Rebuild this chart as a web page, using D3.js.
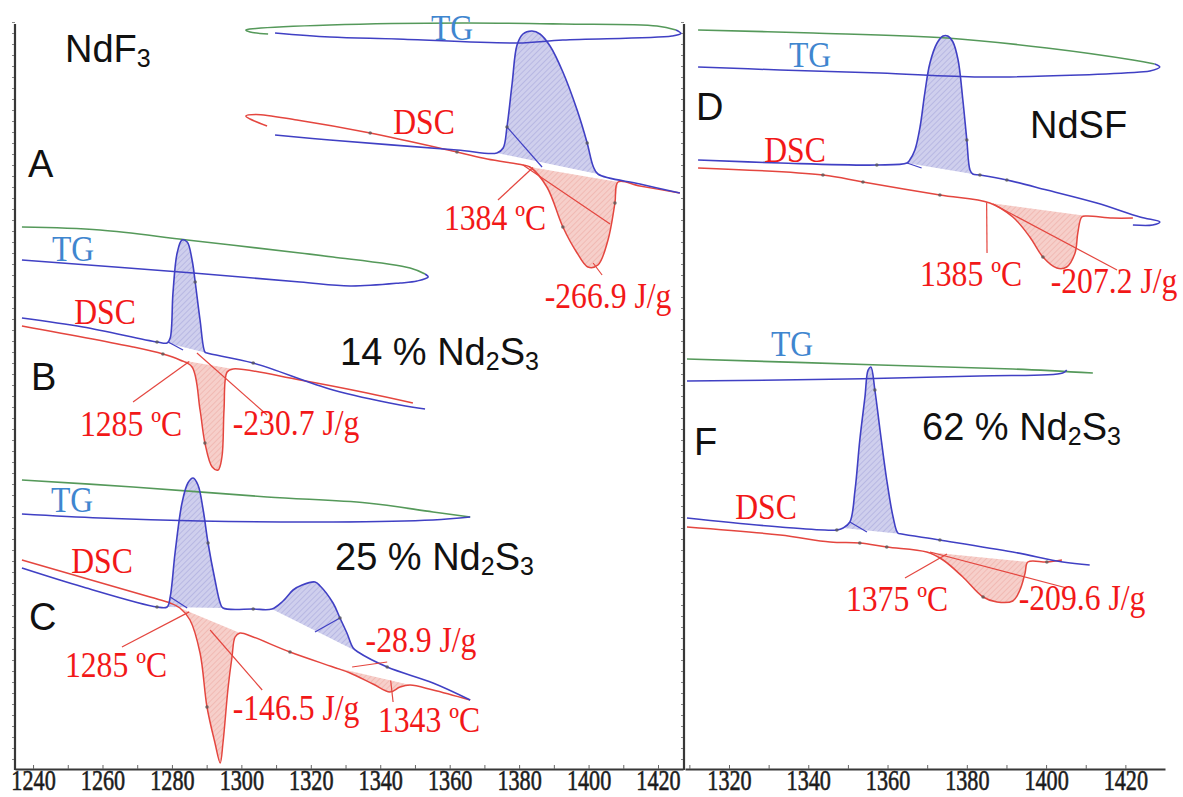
<!DOCTYPE html>
<html>
<head>
<meta charset="utf-8">
<script src="https://cdn.jsdelivr.net/npm/d3@7"></script>
<style>
  html, body { margin: 0; padding: 0; background: #fff; }
  svg { display: block; }
</style>
</head>
<body>
<svg id="chart" width="1183" height="797"></svg>
<script>
// ---------- tick labels (temperature, °C) ----------
const xTicksLeft = [1240, 1260, 1280, 1300, 1320, 1340, 1360, 1380, 1400, 1420];
const xTicksRight = [1320, 1340, 1360, 1380, 1400, 1420];

// Each curve is a list of [temperature °C, signal (arb. units)] in the order it was recorded.
// ---------- A : NdF3 ----------
const tgHeatA = [[1307.7,147.0],[1302.5,147.4],[1301.3,147.8],[1304.2,148.1],[1325.5,148.8],[1363.8,149.2],[1392.6,149.0],[1419.7,148.6],[1425.2,147.8]];
const tgCoolA = [[1425.2,147.8],[1426.6,147.1],[1424.0,146.6],[1392.6,145.8],[1379.4,145.2],[1344.8,146.0],[1325.5,146.4],[1309.7,147.2]];
const dscHeatA = [[1307.4,128.6],[1302.5,130.0],[1301.3,130.6],[1304.2,130.9],[1316.0,129.8],[1337.1,127.2],[1362.1,123.4],[1370.8,122.0],[1381.1,120.8],[1383.1,120.4],[1388.0,116.4],[1392.6,108.4],[1396.7,103.2],[1399.8,100.4],[1402.7,100.8],[1405.6,105.8],[1407.6,113.2],[1408.5,117.4],[1414.8,116.6],[1426.3,115.2]];
const dscCoolA = [[1309.7,126.8],[1325.5,125.8],[1362.1,123.8],[1373.6,123.2],[1375.4,124.2],[1376.5,128.4],[1378.0,137.2],[1379.4,144.8],[1381.1,147.0],[1383.7,147.6],[1386.0,147.0],[1388.9,144.6],[1392.6,139.4],[1396.7,131.8],[1399.6,125.2],[1401.3,120.6],[1402.7,119.0],[1414.8,117.0],[1426.3,115.2]];
const guideCoolA = [[[1376.5,128.4],[1386.6,120.4]]];
const guideHeatA = [[[1381.1,120.8],[1406.2,109.0]], [[1401.3,101.2],[1403.9,98.8]]];
const onsetA = [1384];
const enthalpyA = [-266.9];

// ---------- B : 14 % Nd2S3 ----------
const tgHeatB = [[1236.8,108.4],[1259.3,107.8],[1284.4,105.8],[1316.9,103.2],[1326.4,102.4],[1348.6,100.2],[1352.9,99.0]];
const tgCoolB = [[1352.9,99.0],[1353.8,98.4],[1350.6,97.6],[1345.7,97.2],[1331.3,96.6],[1316.9,97.4],[1286.1,99.2],[1236.8,101.8]];
const dscHeatB = [[1236.8,88.6],[1268.8,84.4],[1277.4,83.0],[1282.3,81.8],[1285.8,80.4],[1288.1,71.8],[1289.5,65.2],[1291.6,60.4],[1293.3,59.8],[1294.4,62.4],[1295.0,71.8],[1295.9,79.4],[1297.6,80.0],[1316.9,77.8],[1336.2,75.2],[1349.4,73.2]];
const dscCoolB = [[1236.8,90.2],[1254.4,88.4],[1275.7,85.4],[1278.6,85.2],[1279.5,86.2],[1280.3,95.2],[1281.5,103.2],[1282.9,105.8],[1284.4,105.4],[1285.8,101.8],[1286.7,97.4],[1288.1,89.8],[1289.5,83.4],[1290.1,83.2],[1303.4,81.2],[1326.4,75.8],[1345.7,72.8],[1352.9,72.0]];
const guideCoolB = [[[1278.9,85.4],[1283.2,83.8]]];
const guideHeatB = [[[1287.2,83.2],[1307.4,70.8]]];
const onsetB = [1285];
const enthalpyB = [-230.7];

// ---------- C : 25 % Nd2S3 ----------
const tgHeatC = [[1236.8,57.8],[1268.8,56.4],[1307.4,54.4],[1336.2,53.2],[1355.2,51.4],[1365.9,50.4]];
const tgCoolC = [[1365.9,50.4],[1355.2,49.8],[1326.4,49.4],[1288.1,49.6],[1259.3,50.2],[1236.8,51.0]];
const dscHeatC = [[1236.8,41.8],[1273.7,34.4],[1279.5,33.2],[1282.3,32.2],[1285.2,29.8],[1288.1,23.2],[1290.1,12.4],[1292.4,5.2],[1293.9,1.2],[1294.7,5.2],[1296.2,16.4],[1297.3,22.4],[1298.2,26.4],[1299.6,27.2],[1303.4,26.4],[1314.0,23.4],[1326.4,20.4],[1331.3,19.2],[1337.9,17.0],[1342.8,15.4],[1345.7,16.4],[1348.6,16.8],[1355.2,15.8],[1365.9,13.8]];
const dscCoolC = [[1236.8,40.2],[1254.4,36.4],[1275.7,32.4],[1278.6,32.4],[1279.5,34.4],[1280.9,43.2],[1282.9,53.2],[1284.6,57.2],[1286.1,58.2],[1287.5,56.8],[1289.0,51.8],[1290.4,45.2],[1292.4,37.8],[1293.9,33.2],[1294.7,32.2],[1303.4,32.0],[1308.8,32.0],[1312.0,33.6],[1314.9,35.8],[1317.5,36.8],[1321.2,37.4],[1322.7,36.6],[1326.4,33.2],[1328.4,30.2],[1330.4,27.2],[1332.2,24.2],[1333.6,23.4],[1342.0,20.4],[1355.2,17.2],[1365.9,13.8]];
const guideCoolC = [[[1279.5,34.4],[1284.4,32.2]], [[1321.2,27.4],[1328.4,30.2]]];
const guideHeatC = [[[1291.0,27.8],[1306.0,15.8]], [[1331.9,20.4],[1342.0,21.4]]];
const onsetC = [1285, 1343];
const enthalpyC = [-146.5, -28.9];

// ---------- D : NdSF ----------
const tgHeatD = [[1312.2,147.8],[1341.2,147.2],[1375.0,146.2],[1400.2,144.2],[1421.9,141.8],[1427.4,141.0]];
const tgCoolD = [[1427.4,141.0],[1428.7,140.4],[1426.2,139.6],[1423.7,139.4],[1408.5,138.8],[1383.3,138.4],[1358.1,139.2],[1332.9,139.8],[1312.2,140.4]];
const dscHeatD = [[1312.2,120.2],[1343.7,118.8],[1353.8,117.4],[1373.2,114.8],[1385.8,113.2],[1391.6,110.4],[1395.9,106.4],[1399.2,102.4],[1402.7,100.2],[1405.2,100.4],[1407.3,103.2],[1408.0,107.2],[1409.0,110.4],[1410.3,110.6],[1416.8,110.2],[1421.9,110.2]];
const dscCoolD = [[1312.2,121.8],[1332.9,121.2],[1357.3,120.8],[1364.9,121.2],[1365.6,121.8],[1366.9,123.8],[1368.2,128.4],[1369.4,135.2],[1370.7,141.2],[1372.5,145.2],[1374.0,146.6],[1375.2,146.6],[1376.5,145.4],[1377.8,141.8],[1379.0,133.8],[1380.0,125.8],[1380.8,119.8],[1381.5,119.0],[1383.3,118.8],[1390.1,117.8],[1400.2,115.8],[1412.8,113.2],[1423.7,110.4],[1428.7,109.4],[1426.9,108.8],[1421.9,108.8]];
const guideCoolD = [[[1364.9,121.2],[1368.6,120.2]]];
const guideHeatD = [[[1386.6,113.0],[1417.9,99.8]]];
const onsetD = [1385];
const enthalpyD = [-207.2];

// ---------- F : 62 % Nd2S3 ----------
const tgHeatF = [[1309.4,82.0],[1358.1,80.8],[1391.6,80.0],[1411.8,79.2]];
const tgCoolF = [[1309.4,77.6],[1349.8,78.0],[1383.3,78.6],[1404.2,79.2],[1405.2,79.8]];
const dscHeatF = [[1309.4,48.4],[1332.9,46.8],[1345.5,45.4],[1353.0,45.2],[1359.8,44.4],[1369.9,43.4],[1374.0,41.8],[1379.0,38.4],[1384.1,34.4],[1387.6,33.4],[1391.6,33.6],[1393.4,35.8],[1394.7,39.2],[1395.4,41.4],[1400.2,41.4],[1404.0,41.8]];
const dscCoolF = [[1309.4,50.2],[1332.9,48.4],[1347.2,47.8],[1348.8,48.2],[1350.5,49.4],[1351.8,55.8],[1353.0,65.8],[1354.3,74.4],[1355.1,79.8],[1355.8,80.4],[1356.8,75.8],[1358.1,67.8],[1359.8,57.8],[1361.4,50.4],[1362.6,47.2],[1363.6,47.0],[1373.2,45.8],[1391.6,43.4],[1404.2,41.4],[1411.0,40.8]];
const guideCoolF = [[[1350.5,49.4],[1354.8,47.4]]];
const guideHeatF = [[[1370.7,43.4],[1405.2,36.2]]];
const onsetF = [1375];
const enthalpyF = [-209.6];

// Nd2S3 content of the mixed samples (%)
const nd2s3Share = [14, 25, 62];

// ---------- scales ----------
const svg = d3.select("#chart");
const xL = d3.scaleLinear().domain([1234.8, 1427.2]).range([15, 683]);
const xR = d3.scaleLinear().domain([1308.9, 1430.0]).range([685, 1165]);
const y = d3.scaleLinear().domain([0, 152]).range([769, 9]);

const C = {
  heat: "#e4463f", cool: "#4040c4", tgHeat: "#55995a",
  red: "#f21818", tgText: "#3f86cf", axis: "#383838", mark: "#555"
};
const serifFont = "'Liberation Serif', 'Times New Roman', serif";
const sansFont = "'Liberation Sans', Arial, sans-serif";

// hatch patterns for the peak areas
const defs = svg.append("defs");
function hatch(id, color) {
  const p = defs.append("pattern").attr("id", id)
    .attr("patternUnits", "userSpaceOnUse").attr("width", 4).attr("height", 4)
    .attr("patternTransform", "rotate(45)");
  p.append("line").attr("x1", 0).attr("y1", 0).attr("x2", 0).attr("y2", 4)
    .attr("stroke", color).attr("stroke-width", 1);
}
hatch("hatchBlue", "rgba(90,90,185,0.4)");
hatch("hatchRed", "rgba(220,100,90,0.4)");

const lineGen = x => d3.line().x(d => x(d[0])).y(d => y(d[1])).curve(d3.curveCatmullRom.alpha(0.5));

// ---------- frame and axes ----------
const frame = svg.append("g");
function bottomAxis(x, labels, minorFrom, minorTo) {
  const g = frame.append("g").attr("transform", "translate(0,769)");
  g.call(d3.axisBottom(x).tickValues(d3.range(minorFrom, minorTo + 1, 10))
      .tickSizeInner(-4).tickSizeOuter(0).tickFormat(""));
  g.select(".domain").attr("stroke", C.axis).attr("stroke-width", 2.2);
  g.selectAll(".tick line").attr("stroke", "#666").attr("stroke-width", 1);
  const gl = frame.append("g").attr("transform", "translate(0,769)");
  gl.call(d3.axisBottom(x).tickValues(labels).tickSize(0).tickPadding(0).tickFormat(d3.format("d")));
  gl.select(".domain").remove();
  gl.selectAll(".tick text")
    .attr("font-family", serifFont).attr("font-size", 30).attr("fill", "#1c1c1c")
    .attr("stroke", "#1c1c1c").attr("stroke-width", 0.6)
    .attr("transform", "scale(0.74,1)");
}
bottomAxis(xL, xTicksLeft, 1240, 1420);
bottomAxis(xR, xTicksRight, 1310, 1420);

function sideAxis(px) {
  const g = frame.append("g").attr("transform", `translate(${px},0)`);
  g.call(d3.axisLeft(y).tickValues(d3.range(2, 151, 2.2)).tickSize(3).tickFormat(""));
  g.select(".domain").remove();
  g.selectAll(".tick line").attr("stroke", "#888").attr("stroke-width", 1);
  frame.append("line").attr("x1", px).attr("x2", px).attr("y1", y(149)).attr("y2", 770)
    .attr("stroke", C.axis).attr("stroke-width", 2.2);
}
sideAxis(15);
sideAxis(684);

// ---------- panels ----------
const panels = [
  { x: xL, tgHeat: tgHeatA, tgCool: tgCoolA, dscHeat: dscHeatA, dscCool: dscCoolA,
    exo: [[3, 16]], endo: [[9, 17]], guideCool: guideCoolA, guideHeat: guideHeatA,
    marks: { heat: [5, 6, 11, 16], cool: [5, 14] },
    onsets: [{ T: onsetA[0], endo: 0, from: [1373.9, 113.8] }] },
  { x: xL, tgHeat: tgHeatB, tgCool: tgCoolB, dscHeat: dscHeatB, dscCool: dscCoolB,
    exo: [[3, 13]], endo: [[3, 12]], guideCool: guideCoolB, guideHeat: guideHeatB,
    marks: { heat: [2, 6], cool: [2, 10, 14] },
    onsets: [{ T: onsetB[0], endo: 0, from: [1268.8, 73.4] }] },
  { x: xL, tgHeat: tgHeatC, tgCool: tgCoolC, dscHeat: dscHeatC, dscCool: dscCoolC,
    exo: [[3, 14], [16, 26]], endo: [[3, 13], [16, 21]], guideCool: guideCoolC, guideHeat: guideHeatC,
    marks: { heat: [6, 15], cool: [2, 11, 15, 23, 27] },
    onsets: [{ T: onsetC[0], endo: 0, from: [1265.6, 24.4] },
             { T: onsetC[1], endo: 1, from: [1343.7, 13.4] }] },
  { x: xR, tgHeat: tgHeatD, tgCool: tgCoolD, dscHeat: dscHeatD, dscCool: dscCoolD,
    exo: [[3, 17]], endo: [[4, 13]], guideCool: guideCoolD, guideHeat: guideHeatD,
    marks: { heat: [1, 2, 3, 7], cool: [2, 15, 18, 19] },
    onsets: [{ T: onsetD[0], endo: 0, from: [1385.1, 103.2] }] },
  { x: xR, tgHeat: tgHeatF, tgCool: tgCoolF, dscHeat: dscHeatF, dscCool: dscCoolF,
    exo: [[3, 15]], endo: [[5, 13]], guideCool: guideCoolF, guideHeat: guideHeatF,
    marks: { heat: [3, 4, 8, 14], cool: [2, 10, 16] },
    onsets: [{ T: onsetF[0], endo: 0, from: [1364.4, 38.2] }] }
];

const plot = svg.append("g");
panels.forEach(p => {
  const line = lineGen(p.x);
  // peak areas closed by a straight baseline
  p.exo.forEach(([i, j]) => {
    const d = line(p.dscCool.slice(i, j + 1)) + "Z";
    plot.append("path").attr("d", d).attr("fill", "rgba(168,168,222,0.55)");
    plot.append("path").attr("d", d).attr("fill", "url(#hatchBlue)");
  });
  p.endo.forEach(([i, j]) => {
    const d = line(p.dscHeat.slice(i, j + 1)) + "Z";
    plot.append("path").attr("d", d).attr("fill", "rgba(238,168,158,0.55)");
    plot.append("path").attr("d", d).attr("fill", "url(#hatchRed)");
  });
  // thermogravimetric loop
  plot.append("path").attr("d", line(p.tgHeat)).attr("fill", "none")
    .attr("stroke", C.tgHeat).attr("stroke-width", 1.6);
  plot.append("path").attr("d", line(p.tgCool)).attr("fill", "none")
    .attr("stroke", C.cool).attr("stroke-width", 1.5);
  // DSC heating and cooling traces
  plot.append("path").attr("d", line(p.dscHeat)).attr("fill", "none")
    .attr("stroke", C.heat).attr("stroke-width", 1.5);
  plot.append("path").attr("d", line(p.dscCool)).attr("fill", "none")
    .attr("stroke", C.cool).attr("stroke-width", 1.6);
  // construction lines
  const seg = (g, color) => plot.append("line")
    .attr("x1", p.x(g[0][0])).attr("y1", y(g[0][1]))
    .attr("x2", p.x(g[1][0])).attr("y2", y(g[1][1]))
    .attr("stroke", color).attr("stroke-width", 1.2);
  p.guideCool.forEach(g => seg(g, C.cool));
  p.guideHeat.forEach(g => seg(g, C.heat));
  // onset leaders, ending on the extrapolated baseline at the onset temperature
  p.onsets.forEach(o => {
    const [i, j] = p.endo[o.endo];
    const a = p.dscHeat[i], b = p.dscHeat[j];
    const s = a[1] + (o.T - a[0]) / (b[0] - a[0]) * (b[1] - a[1]);
    seg([o.from, [o.T, s]], C.heat);
  });
  // small instrument markers on the traces
  const dot = d => plot.append("circle").attr("cx", p.x(d[0])).attr("cy", y(d[1]))
    .attr("r", 1.8).attr("fill", C.mark).attr("opacity", 0.75);
  p.marks.heat.forEach(k => dot(p.dscHeat[k]));
  p.marks.cool.forEach(k => dot(p.dscCool[k]));
});

// ---------- text ----------
const txt = svg.append("g");
function serif(cx, by, s, color) {
  txt.append("text").attr("transform", `translate(${cx},${by}) scale(0.88,1)`)
    .attr("text-anchor", "middle").attr("font-family", serifFont)
    .attr("font-size", 36).attr("fill", color).text(s);
}
function sans(x0, by, parts, size = 38) {
  const t = txt.append("text").attr("x", x0).attr("y", by)
    .attr("font-family", sansFont).attr("font-size", size).attr("fill", "#111");
  let inSub = false;
  parts.forEach(part => {
    const sub = !!part.sub;
    const dy = sub === inSub ? 0 : (sub ? 5 : -5);
    t.append("tspan").attr("font-size", sub ? 25 : size).attr("dy", dy).text(part.t);
    inSub = sub;
  });
}
const degLabel = T => `${T} ºC`;
const jLabel = v => `${v.toFixed(1)} J/g`;
const nd2s3 = pct => [{ t: `${pct} % Nd` }, { t: "2", sub: true }, { t: "S" }, { t: "3", sub: true }];

// A
sans(65, 62, [{ t: "NdF" }, { t: "3", sub: true }]);
sans(28, 177, [{ t: "A" }]);
serif(452, 40, "TG", C.tgText);
serif(424, 134, "DSC", C.red);
serif(495, 230, degLabel(onsetA[0]), C.red);
serif(608, 308, jLabel(enthalpyA[0]), C.red);
// B
sans(31, 390, [{ t: "B" }]);
sans(340, 365, nd2s3(nd2s3Share[0]));
serif(73, 261, "TG", C.tgText);
serif(105, 324, "DSC", C.red);
serif(131, 436, degLabel(onsetB[0]), C.red);
serif(296, 435, jLabel(enthalpyB[0]), C.red);
// C
sans(29, 630, [{ t: "C" }]);
sans(335, 570, nd2s3(nd2s3Share[1]));
serif(72, 512, "TG", C.tgText);
serif(102, 573, "DSC", C.red);
serif(116, 677, degLabel(onsetC[0]), C.red);
serif(296, 720, jLabel(enthalpyC[0]), C.red);
serif(429, 732, degLabel(onsetC[1]), C.red);
serif(421, 652, jLabel(enthalpyC[1]), C.red);
// D
sans(696, 120, [{ t: "D" }]);
sans(1030, 138, [{ t: "NdSF" }]);
serif(810, 67, "TG", C.tgText);
serif(795, 162, "DSC", C.red);
serif(971, 286, degLabel(onsetD[0]), C.red);
serif(1114, 293, jLabel(enthalpyD[0]), C.red);
// F
sans(694, 455, [{ t: "F" }]);
sans(922, 440, nd2s3(nd2s3Share[2]));
serif(792, 356, "TG", C.tgText);
serif(766, 519, "DSC", C.red);
serif(897, 611, degLabel(onsetF[0]), C.red);
serif(1082, 610, jLabel(enthalpyF[0]), C.red);
</script>
</body>
</html>
